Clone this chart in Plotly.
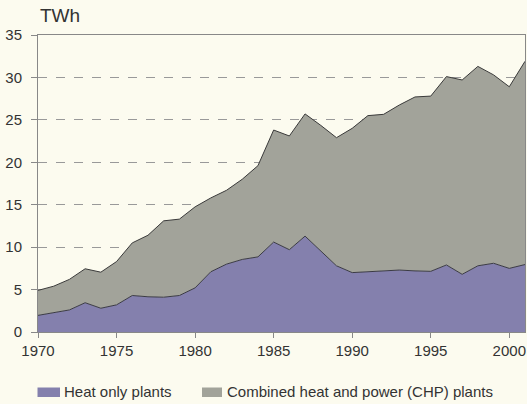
import plotly.graph_objects as go

years = list(range(1970, 2002))
heat_only = [1.96, 2.3, 2.6, 3.45, 2.8, 3.2, 4.3, 4.15, 4.1, 4.3, 5.2, 7.1, 8.0, 8.55, 8.85,
             10.6, 9.7, 11.3, 9.6, 7.8, 7.0, 7.1, 7.15, 7.3, 7.2, 7.15, 7.9, 6.8, 7.8, 8.1, 7.5, 7.95]
chp = [2.94, 3.1, 3.6, 4.0, 4.25, 5.1, 6.2, 7.25, 9.0, 9.0, 9.55, 8.7, 8.7, 9.45, 10.75,
       13.2, 13.4, 14.4, 14.75, 15.1, 17.0, 18.4, 18.5, 19.45, 20.5, 20.65, 22.2, 22.9, 23.5, 22.2, 21.4, 23.95]
series_names = ["Heat only plants", "Combined heat and power (CHP) plants"]
x_ticks = [1970, 1975, 1980, 1985, 1990, 1995, 2000]
y_ticks = [0, 5, 10, 15, 20, 25, 30, 35]

purple = "#8480ad"
gray = "#a2a39a"
bg = "#fcfbef"
font = "Liberation Sans, Arial, sans-serif"

fig = go.Figure()
fig.add_trace(go.Scatter(x=years, y=heat_only, name=series_names[0], stackgroup="one",
                         mode="lines", line=dict(color="#3a3a44", width=1), fillcolor=purple))
fig.add_trace(go.Scatter(x=years, y=chp, name=series_names[1], stackgroup="one",
                         mode="lines", line=dict(color="#3a3a3a", width=1), fillcolor=gray))

W, H = 527, 404
ml, mr, mt, mb = 38, 2, 35, 72
pw, ph = W - ml - mr, H - mt - mb

def px(xp):
    return (xp - ml) / pw

def py(yp):
    return (H - mb - yp) / ph

# custom legend
legend_items = [(purple, series_names[0], 37.5, 60, 62), (gray, series_names[1], 202, 222, 225)]
for col, txt, x0, x1, tx in legend_items:
    fig.add_shape(type="rect", xref="paper", yref="paper", x0=px(x0), x1=px(x1),
                  y0=py(397), y1=py(387.5), fillcolor=col, line=dict(width=0))
    fig.add_annotation(xref="paper", yref="paper", x=px(tx), y=py(391.5), text=txt,
                       showarrow=False, xanchor="left", yanchor="middle",
                       font=dict(family=font, size=15, color="#333"))

fig.add_annotation(xref="paper", yref="paper", x=px(38), y=py(16), text="TWh",
                   showarrow=False, xanchor="left", yanchor="middle",
                   font=dict(family=font, size=19, color="#333"))

fig.update_layout(
    width=W, height=H,
    margin=dict(l=ml, r=mr, t=mt, b=mb),
    paper_bgcolor=bg, plot_bgcolor=bg,
    showlegend=False,
    hovermode=False,
    font=dict(family=font, size=15, color="#333"),
)
fig.update_xaxes(range=[1970, 2001], tickvals=x_ticks, ticks="outside", ticklen=5,
                 tickcolor="#888", showgrid=False, showline=True, linecolor="#888",
                 mirror=True, zeroline=False, tickfont=dict(size=15, color="#333"))
fig.update_yaxes(range=[0, 35], tickvals=y_ticks, ticks="outside", ticklen=6,
                 tickcolor="#888", showgrid=True, gridcolor="#999", griddash="dash",
                 gridwidth=1, showline=True, linecolor="#888", mirror=True,
                 zeroline=False, ticklabelstandoff=6, tickfont=dict(size=15, color="#333"))

fig.write_html("out.html", config={"displayModeBar": False},
               post_script="document.body.style.margin='0px';document.body.style.background='%s';" % bg)
